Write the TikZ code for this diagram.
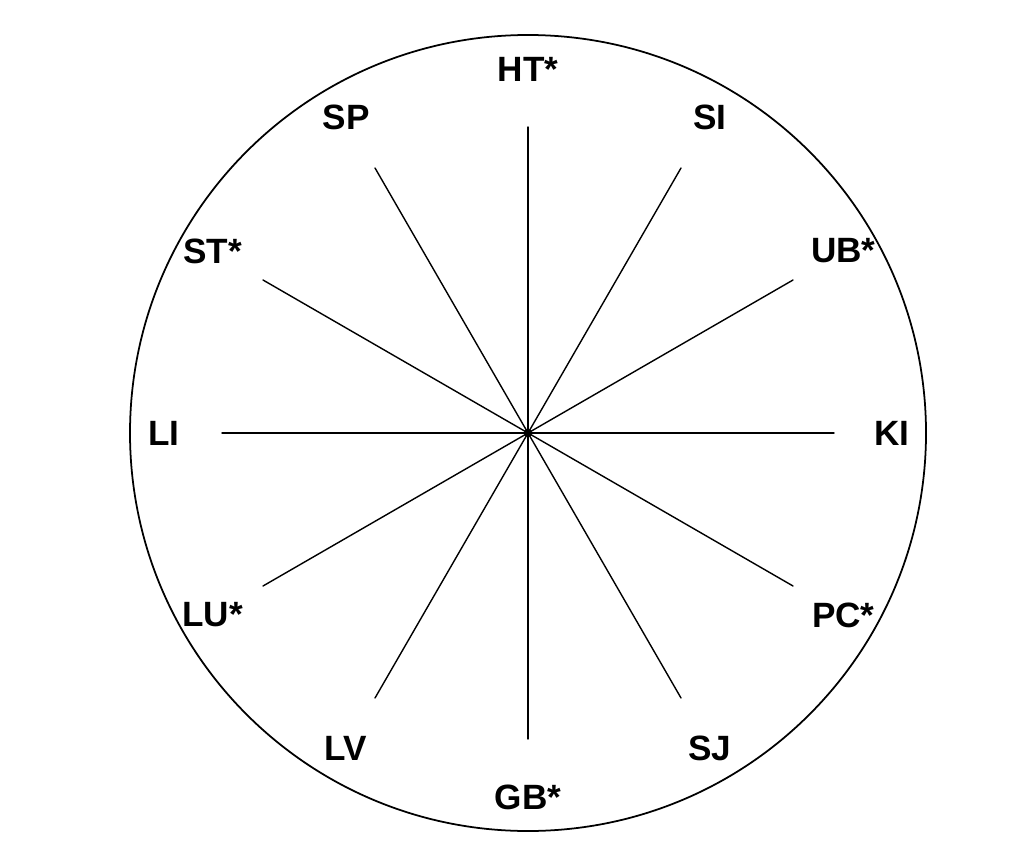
\documentclass[tikz,border=0pt]{standalone}
\usepackage{fontspec}
\setmainfont{Liberation Sans}
\begin{document}
\begin{tikzpicture}[
	line join=round,
	line cap=round,
	lbl/.style={font=\fontsize{10}{12}\selectfont\bfseries, inner sep=0pt},
	spoke/.style={line width=0.4pt}
	]
	
	% Khung
	\useasboundingbox (0,0) rectangle (10.23,8.54);
	
	% Tâm và vòng tròn
	\coordinate (O) at (5.28,4.21);
	\draw[line width=0.5pt] (O) circle (3.98);
	
	% Các tia và nhãn
	\foreach \a/\t/\n in {90/HT*/ht,60/SI/si,30/UB*/ub,0/KI/ki,-30/PC*/pc,-60/SJ/sj,
		-90/GB*/gb,-120/LV/lv,-150/LU*/lu,180/LI/li,150/ST*/st,120/SP/sp}
	{
		\coordinate (e\n) at ([shift={(\a:3.06)}]O);
		\node[lbl] (\n) at ([shift={(\a:3.64)}]O) {\t};
		\draw[spoke] (O) -- (e\n);
	}
	
	% Điểm tâm
	\fill (O) circle (1.2pt);
	
\end{tikzpicture}
\end{document}
